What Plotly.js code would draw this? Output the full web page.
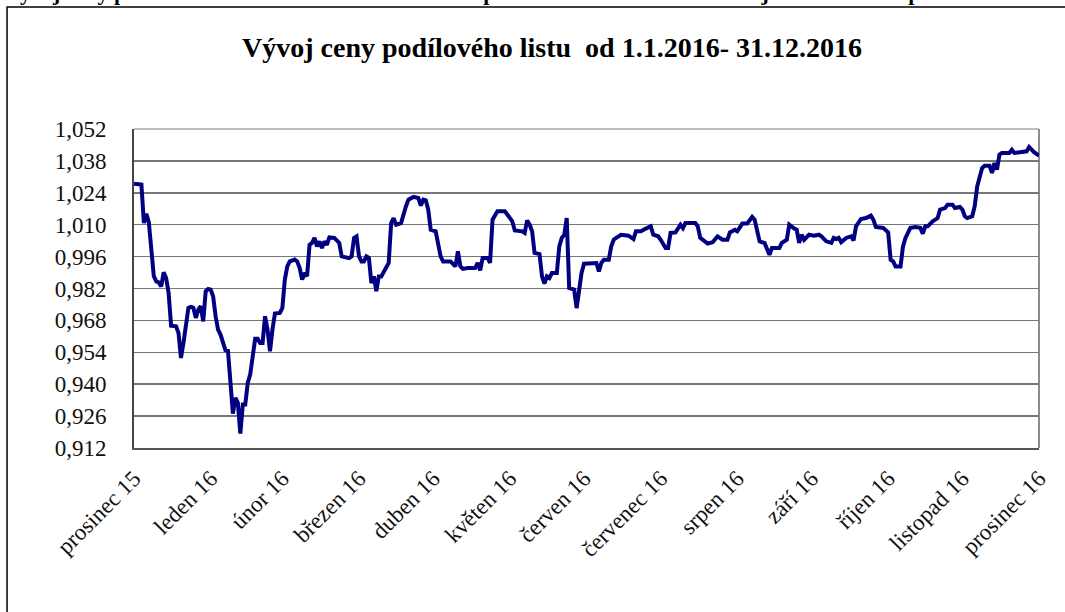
<!DOCTYPE html>
<html>
<head>
<meta charset="utf-8">
<script src="https://cdn.plot.ly/plotly-3.0.1.min.js"></script>
<style>
  html, body { margin: 0; padding: 0; background: #ffffff; }
  #chart { width: 1065px; height: 612px; }
</style>
</head>
<body>
<div id="chart"></div>
<script>
const dates = [
  "2015-12-31","2016-01-03","2016-01-04","2016-01-05","2016-01-06","2016-01-07","2016-01-08","2016-01-09","2016-01-10","2016-01-11",
  "2016-01-12","2016-01-13","2016-01-14","2016-01-15","2016-01-16","2016-01-17","2016-01-18","2016-01-19","2016-01-20","2016-01-21",
  "2016-01-22","2016-01-23","2016-01-24","2016-01-25","2016-01-26","2016-01-27","2016-01-28","2016-01-29","2016-01-30","2016-01-31",
  "2016-02-01","2016-02-02","2016-02-03","2016-02-04","2016-02-05","2016-02-06","2016-02-07","2016-02-08","2016-02-09","2016-02-10",
  "2016-02-11","2016-02-12","2016-02-13","2016-02-14","2016-02-15","2016-02-16","2016-02-17","2016-02-18","2016-02-19","2016-02-20",
  "2016-02-21","2016-02-22","2016-02-23","2016-02-24","2016-02-25","2016-02-26","2016-02-28","2016-02-29","2016-03-01","2016-03-02",
  "2016-03-03","2016-03-05","2016-03-06","2016-03-07","2016-03-08","2016-03-09","2016-03-10","2016-03-11","2016-03-12","2016-03-13",
  "2016-03-14","2016-03-15","2016-03-16","2016-03-17","2016-03-18","2016-03-19","2016-03-21","2016-03-23","2016-03-24","2016-03-27",
  "2016-03-28","2016-03-29","2016-03-30","2016-03-31","2016-04-01","2016-04-02","2016-04-03","2016-04-04","2016-04-05","2016-04-06",
  "2016-04-07","2016-04-08","2016-04-09","2016-04-10","2016-04-12","2016-04-13","2016-04-14","2016-04-15","2016-04-17","2016-04-19",
  "2016-04-20","2016-04-22","2016-04-24","2016-04-25","2016-04-26","2016-04-27","2016-04-28","2016-04-29","2016-05-01","2016-05-03",
  "2016-05-04","2016-05-07","2016-05-08","2016-05-09","2016-05-10","2016-05-11","2016-05-12","2016-05-14","2016-05-17","2016-05-18",
  "2016-05-19","2016-05-20","2016-05-22","2016-05-23","2016-05-24","2016-05-25","2016-05-26","2016-05-29","2016-05-31","2016-06-01",
  "2016-06-02","2016-06-05","2016-06-06","2016-06-07","2016-06-08","2016-06-09","2016-06-10","2016-06-12","2016-06-13","2016-06-14",
  "2016-06-15","2016-06-16","2016-06-17","2016-06-19","2016-06-20","2016-06-21","2016-06-22","2016-06-23","2016-06-24","2016-06-25",
  "2016-06-26","2016-06-27","2016-06-28","2016-06-29","2016-06-30","2016-07-05","2016-07-06","2016-07-07","2016-07-08","2016-07-10",
  "2016-07-11","2016-07-12","2016-07-13","2016-07-15","2016-07-18","2016-07-20","2016-07-21","2016-07-23","2016-07-25","2016-07-27",
  "2016-07-28","2016-07-30","2016-07-31","2016-08-02","2016-08-03","2016-08-04","2016-08-06","2016-08-08","2016-08-09","2016-08-10",
  "2016-08-14","2016-08-15","2016-08-16","2016-08-17","2016-08-19","2016-08-21","2016-08-23","2016-08-25","2016-08-27","2016-08-28",
  "2016-08-30","2016-08-31","2016-09-02","2016-09-04","2016-09-06","2016-09-07","2016-09-09","2016-09-10","2016-09-11","2016-09-13",
  "2016-09-14","2016-09-17","2016-09-18","2016-09-20","2016-09-21","2016-09-23","2016-09-24","2016-09-25","2016-09-26","2016-09-27",
  "2016-09-29","2016-10-01","2016-10-03","2016-10-04","2016-10-06","2016-10-08","2016-10-09","2016-10-10","2016-10-11","2016-10-12",
  "2016-10-14","2016-10-16","2016-10-17","2016-10-18","2016-10-20","2016-10-22","2016-10-24","2016-10-25","2016-10-26","2016-10-29",
  "2016-10-31","2016-11-01","2016-11-02","2016-11-03","2016-11-05","2016-11-06","2016-11-07","2016-11-09","2016-11-11","2016-11-13",
  "2016-11-14","2016-11-15","2016-11-16","2016-11-18","2016-11-20","2016-11-21","2016-11-23","2016-11-24","2016-11-26","2016-11-27",
  "2016-11-29","2016-11-30","2016-12-01","2016-12-02","2016-12-04","2016-12-05","2016-12-06","2016-12-08","2016-12-09","2016-12-11",
  "2016-12-12","2016-12-13","2016-12-14","2016-12-15","2016-12-16","2016-12-19","2016-12-20","2016-12-21","2016-12-25","2016-12-26",
  "2016-12-27","2016-12-29","2016-12-31"
];

// Price of the unit (CZK)
const prices = [
  1.0280,1.0276,1.0107,1.0148,1.0110,0.9990,0.9875,0.9851,0.9847,0.9829,
  0.9891,0.9866,0.9800,0.9657,0.9654,0.9654,0.9625,0.9515,0.9581,0.9669,
  0.9735,0.9739,0.9735,0.9691,0.9727,0.9742,0.9676,0.9808,0.9818,0.9815,
  0.9786,0.9698,0.9640,0.9618,0.9581,0.9549,0.9546,0.9391,0.9271,0.9340,
  0.9318,0.9183,0.9311,0.9311,0.9406,0.9443,0.9538,0.9600,0.9600,0.9581,
  0.9581,0.9698,0.9640,0.9545,0.9640,0.9710,0.9713,0.9735,0.9859,0.9917,
  0.9939,0.9947,0.9939,0.9910,0.9859,0.9888,0.9874,1.0012,1.0020,1.0042,
  1.0005,1.0027,0.9998,1.0027,1.0012,1.0044,1.0042,1.0020,0.9961,0.9953,
  0.9961,1.0042,1.0049,0.9961,0.9939,0.9939,0.9961,0.9954,0.9844,0.9873,
  0.9808,0.9873,0.9873,0.9895,0.9932,1.0107,1.0129,1.0100,1.0107,1.0181,
  1.0210,1.0222,1.0217,1.0184,1.0210,1.0207,1.0166,1.0078,1.0071,0.9961,
  0.9939,0.9939,0.9925,0.9917,0.9983,0.9917,0.9906,0.9910,0.9910,0.9932,
  0.9900,0.9954,0.9954,0.9932,1.0122,1.0137,1.0159,1.0159,1.0134,1.0115,
  1.0075,1.0071,1.0064,1.0119,1.0100,1.0071,0.9976,0.9971,0.9873,0.9841,
  0.9873,0.9866,0.9888,0.9888,1.0005,1.0042,1.0056,1.0129,0.9822,0.9819,
  0.9815,0.9734,0.9815,0.9888,0.9929,0.9932,0.9895,0.9932,0.9946,0.9946,
  1.0005,1.0034,1.0042,1.0056,1.0052,1.0037,1.0071,1.0071,1.0083,1.0093,
  1.0056,1.0049,1.0034,0.9998,0.9998,1.0064,1.0066,1.0100,1.0085,1.0107,
  1.0107,1.0093,1.0042,1.0034,1.0017,1.0023,1.0049,1.0034,1.0034,1.0066,
  1.0078,1.0071,1.0105,1.0105,1.0134,1.0122,1.0027,1.0023,1.0020,0.9968,
  0.9998,0.9998,1.0020,1.0034,1.0100,1.0083,1.0078,1.0020,1.0056,1.0034,
  1.0056,1.0052,1.0056,1.0049,1.0027,1.0020,1.0042,1.0037,1.0042,1.0023,
  1.0042,1.0049,1.0031,1.0093,1.0125,1.0129,1.0140,1.0122,1.0090,1.0086,
  1.0066,0.9946,0.9939,0.9917,0.9917,1.0005,1.0042,1.0086,1.0090,1.0086,
  1.0061,1.0093,1.0093,1.0115,1.0129,1.0166,1.0173,1.0188,1.0188,1.0173,
  1.0178,1.0166,1.0137,1.0129,1.0137,1.0181,1.0268,1.0349,1.0359,1.0359,
  1.0327,1.0371,1.0342,1.0407,1.0415,1.0415,1.0429,1.0415,1.0418,1.0422,
  1.0441,1.0418,1.0403
];

// Month tick positions and labels
const monthTicks = [
  "2015-12-31","2016-01-31","2016-02-29","2016-03-31","2016-04-30","2016-05-31","2016-06-30",
  "2016-07-31","2016-08-31","2016-09-30","2016-10-31","2016-11-30","2016-12-31"
];
const monthLabels = [
  "prosinec 15","leden 16","únor 16","březen 16","duben 16","květen 16","červen 16",
  "červenec 16","srpen 16","září 16","říjen 16","listopad 16","prosinec 16"
];

const chartTitle = "Vývoj ceny podílového listu  od 1.1.2016- 31.12.2016";
const headerText = "Vývoj ceny podílového listu standardního fondu kapitálového trhu v roce 2016 a jeho srovnání s předchozím obdobím";

const serif = "'Liberation Serif', 'Times New Roman', serif";

const trace = {
  x: dates,
  y: prices,
  type: "scatter",
  mode: "lines",
  line: { color: "#000080", width: 4, shape: "linear" },
  hoverinfo: "x+y",
  showlegend: false
};

const layout = {
  width: 1065,
  height: 612,
  paper_bgcolor: "#ffffff",
  plot_bgcolor: "#ffffff",
  separators: ", ",
  margin: { l: 134, r: 26, t: 129, b: 164 },
  font: { family: serif, color: "#111111" },
  title: {
    text: chartTitle,
    font: { family: serif, size: 28, color: "#000000", weight: "bold" },
    x: 552 / 1065, xanchor: "center", xref: "container",
    y: 0.923, yanchor: "middle", yref: "container"
  },
  xaxis: {
    type: "date",
    range: ["2015-12-31", "2016-12-31"],
    tickmode: "array",
    tickvals: monthTicks,
    ticktext: monthLabels,
    tickangle: -45,
    tickfont: { family: serif, size: 23, color: "#111111" },
    ticks: "",
    ticklabelstandoff: 6,
    showgrid: false,
    showline: true,
    linecolor: "#555555",
    linewidth: 2,
    zeroline: false,
    fixedrange: true
  },
  yaxis: {
    range: [0.912, 1.052],
    tick0: 0.912,
    dtick: 0.014,
    tickformat: ".3f",
    tickfont: { family: serif, size: 23, color: "#111111" },
    ticks: "",
    ticklabelstandoff: 21,
    showgrid: true,
    gridcolor: "#777777",
    gridwidth: 1.5,
    showline: true,
    linecolor: "#444444",
    linewidth: 2,
    zeroline: false,
    fixedrange: true
  },
  shapes: [
    { type: "line", xref: "paper", yref: "paper", x0: 0, x1: 1, y0: 1, y1: 1,
      line: { color: "#a6a6a6", width: 1.5 }, layer: "below" },
    { type: "line", xref: "paper", yref: "paper", x0: 1, x1: 1, y0: 0, y1: 1,
      line: { color: "#8c8c8c", width: 2 }, layer: "below" },
    { type: "rect", xref: "paper", yref: "paper",
      x0: -0.1403, x1: 1.2, y0: -0.7, y1: 1.3824,
      line: { color: "#000000", width: 1.5 }, fillcolor: "rgba(0,0,0,0)", layer: "above" }
  ],
  annotations: [
    { text: headerText, xref: "paper", yref: "paper", x: -0.146, y: 1.384,
      xanchor: "left", yanchor: "bottom", showarrow: false,
      font: { family: serif, size: 22, color: "#000000", weight: "bold" } }
  ]
};

Plotly.newPlot("chart", [trace], layout, { displayModeBar: false, staticPlot: true });
</script>
</body>
</html>
